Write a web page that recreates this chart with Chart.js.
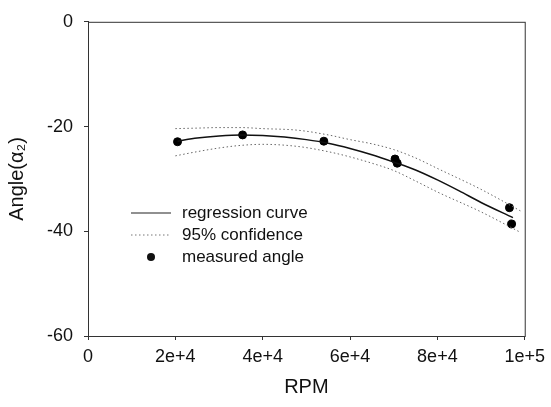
<!DOCTYPE html>
<html>
<head>
<meta charset="utf-8">
<script src="https://cdn.jsdelivr.net/npm/chart.js@4/dist/chart.umd.min.js"></script>
<style>
  html, body { margin:0; padding:0; background:#fff; }
  #wrap { width:551px; height:407px; position:relative; }
</style>
</head>
<body>
<div id="wrap"><canvas id="c"></canvas></div>
<script>
// --- data ---
const xTicks      = [0, 20000, 40000, 60000, 80000, 100000];
const xTickLabels = ['0', '2e+4', '4e+4', '6e+4', '8e+4', '1e+5'];
const yTicks      = [0, -20, -40, -60];

// measured points (RPM, angle)
const measRpm   = [20500, 35400, 54000, 70300, 70800, 96500, 97000];
const measAngle = [-22.9, -21.6, -22.8, -26.2, -27.0, -35.5, -38.6];

// regression curve
const regRpm   = [20500, 25000, 30000, 35000, 40000, 45000, 50000, 55000, 60000, 65000, 70000, 75000, 80000, 85000, 90000, 97300];
const regAngle = [-22.8, -22.2, -21.8, -21.6, -21.7, -22.0, -22.5, -23.2, -24.2, -25.4, -26.8, -28.3, -30.2, -32.3, -34.5, -37.4];

// 95% confidence band
const ciRpm   = [20000, 25000, 30000, 35000, 40000, 48000, 55000, 60000, 65000, 70000, 75000, 80000, 90000, 99000];
const ciUpper = [-20.4, -20.3, -20.2, -20.2, -20.4, -20.7, -21.6, -22.5, -23.3, -24.4, -26.0, -28.0, -32.0, -36.1];
const ciLower = [-25.6, -24.8, -24.1, -23.6, -23.4, -23.8, -24.8, -25.8, -27.0, -28.4, -30.4, -32.5, -36.3, -40.2];

const legendItems = ['regression curve', '95% confidence', 'measured angle'];

const FONT = "'Liberation Sans', Arial, sans-serif";
const pts = (xs, ys) => xs.map((x, i) => ({ x, y: ys[i] }));

// cadre complet + légende à l'intérieur du graphe
const boxAndLegend = {
  id: 'boxAndLegend',
  afterDraw(chart) {
    const { ctx, chartArea: a } = chart;
    ctx.save();
    ctx.strokeStyle = '#333'; ctx.lineWidth = 1;
    ctx.strokeRect(a.left + 0.5, a.top + 0.5, a.right - a.left, a.bottom - a.top);

    ctx.font = '17px ' + FONT; ctx.fillStyle = '#111'; ctx.textBaseline = 'middle';
    const lx = 131, tx = 182, rows = [213, 235, 257];
    // regression sample
    ctx.strokeStyle = '#222'; ctx.lineWidth = 1.2;
    ctx.beginPath(); ctx.moveTo(lx, rows[0]); ctx.lineTo(lx + 40, rows[0]); ctx.stroke();
    // confidence sample
    ctx.strokeStyle = '#777'; ctx.lineWidth = 1; ctx.setLineDash([1.5, 2.5]);
    ctx.beginPath(); ctx.moveTo(lx, rows[1]); ctx.lineTo(lx + 40, rows[1]); ctx.stroke();
    ctx.setLineDash([]);
    // dot
    ctx.beginPath(); ctx.arc(lx + 20, rows[2], 4, 0, Math.PI * 2); ctx.fill();
    legendItems.forEach((t, i) => ctx.fillText(t, tx, rows[i]));
    ctx.restore();
  }
};

new Chart(document.getElementById('c'), {
  type: 'scatter',
  data: {
    datasets: [
      { data: pts(ciRpm, ciUpper), showLine: true, borderColor: '#666', borderWidth: 1, borderDash: [1.5, 2.5], pointRadius: 0, cubicInterpolationMode: 'monotone' },
      { data: pts(ciRpm, ciLower), showLine: true, borderColor: '#666', borderWidth: 1, borderDash: [1.5, 2.5], pointRadius: 0, cubicInterpolationMode: 'monotone' },
      { data: pts(regRpm, regAngle), showLine: true, borderColor: '#111', borderWidth: 1.5, pointRadius: 0, cubicInterpolationMode: 'monotone' },
      { data: pts(measRpm, measAngle), showLine: false, pointRadius: 4, backgroundColor: '#000', borderColor: '#000' }
    ]
  },
  options: {
    responsive: true, maintainAspectRatio: false, animation: false,
    layout: { padding: { top: 20, right: 22, left: 0, bottom: 0 } },
    plugins: { legend: { display: false }, tooltip: { enabled: false } },
    scales: {
      x: {
        min: 0, max: 100000,
        afterBuildTicks: s => { s.ticks = xTicks.map(v => ({ value: v })); },
        afterFit: s => { s.height = 71; },
        ticks: { callback: (v) => xTickLabels[xTicks.indexOf(v)], font: { family: FONT, size: 18 }, color: '#111', padding: 6, maxRotation: 0 },
        grid: { drawOnChartArea: false, drawTicks: true, tickLength: 4, color: '#333' },
        border: { display: true, color: '#333' },
        title: { display: true, text: 'RPM', font: { family: FONT, size: 20 }, color: '#111', padding: { top: 0, bottom: 8 } }
      },
      y: {
        min: -60, max: 0,
        afterBuildTicks: s => { s.ticks = yTicks.map(v => ({ value: v })); },
        afterFit: s => { s.width = 88; },
        ticks: { font: { family: FONT, size: 18 }, color: '#111', padding: 11 },
        grid: { drawOnChartArea: false, drawTicks: true, tickLength: 4, color: '#333' },
        border: { display: true, color: '#333' },
        title: { display: true, text: 'Angle(α₂)', font: { family: FONT, size: 20 }, color: '#111', padding: { top: 5, bottom: 0 } }
      }
    }
  },
  plugins: [boxAndLegend]
});
</script>
</body>
</html>
